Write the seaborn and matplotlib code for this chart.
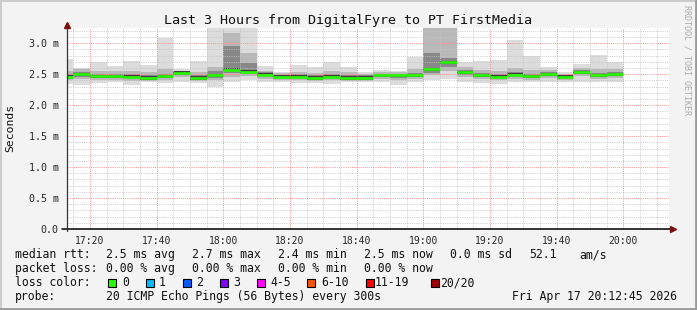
import matplotlib
matplotlib.use("Agg")
import matplotlib.pyplot as plt
from matplotlib.patches import Rectangle
from matplotlib.lines import Line2D
import seaborn as sns
import numpy as np

# ---------------- data (ms, minutes after 17:00) ----------------
bar_start = [10, 15, 20, 25, 30, 35, 40, 45, 50, 55, 60, 65, 70, 75, 80, 85, 90,
             95, 100, 105, 110, 115, 120, 125, 130, 135, 140, 145, 150, 155, 160,
             165, 170, 175]
median = [2.46, 2.50, 2.47, 2.47, 2.46, 2.44, 2.47, 2.52, 2.44, 2.48, 2.57, 2.54,
          2.49, 2.46, 2.46, 2.44, 2.46, 2.44, 2.44, 2.48, 2.48, 2.48, 2.58, 2.69,
          2.53, 2.48, 2.46, 2.49, 2.47, 2.50, 2.46, 2.53, 2.48, 2.50]
ping_max = [2.75, 2.60, 2.70, 2.63, 2.71, 2.65, 3.09, 2.58, 2.71, 3.30, 3.30, 3.30,
            2.63, 2.54, 2.65, 2.61, 2.69, 2.62, 2.54, 2.57, 2.56, 2.78, 3.30, 3.30,
            2.69, 2.72, 2.73, 3.05, 2.79, 2.61, 2.53, 2.66, 2.81, 2.69]
ping_min = [2.35, 2.33, 2.36, 2.38, 2.32, 2.37, 2.36, 2.37, 2.36, 2.29, 2.38, 2.40,
            2.38, 2.37, 2.36, 2.36, 2.34, 2.37, 2.37, 2.37, 2.33, 2.37, 2.40, 2.42,
            2.38, 2.36, 2.34, 2.37, 2.37, 2.38, 2.37, 2.38, 2.37, 2.38]
hi_mid = [2.56, 2.58, 2.56, 2.55, 2.55, 2.53, 2.58, 2.56, 2.53, 2.62, 3.17, 2.84,
          2.56, 2.52, 2.54, 2.52, 2.55, 2.53, 2.51, 2.54, 2.54, 2.58, 3.30, 3.30,
          2.61, 2.57, 2.55, 2.60, 2.57, 2.57, 2.51, 2.60, 2.58, 2.58]
lo_mid = [2.40, 2.42, 2.41, 2.41, 2.39, 2.39, 2.41, 2.45, 2.39, 2.40, 2.46, 2.47,
          2.43, 2.41, 2.41, 2.39, 2.40, 2.39, 2.39, 2.42, 2.41, 2.42, 2.48, 2.55,
          2.46, 2.42, 2.40, 2.43, 2.41, 2.44, 2.41, 2.47, 2.42, 2.44]
hi_core = [2.50, 2.54, 2.51, 2.51, 2.50, 2.48, 2.51, 2.55, 2.48, 2.55, 2.95, 2.68,
           2.53, 2.49, 2.50, 2.48, 2.50, 2.48, 2.48, 2.51, 2.51, 2.52, 2.84, 2.76,
           2.57, 2.52, 2.50, 2.53, 2.51, 2.54, 2.49, 2.57, 2.52, 2.54]
lo_core = [2.43, 2.46, 2.44, 2.44, 2.42, 2.41, 2.44, 2.48, 2.41, 2.44, 2.52, 2.50,
           2.46, 2.43, 2.43, 2.41, 2.43, 2.41, 2.41, 2.45, 2.44, 2.45, 2.52, 2.62,
           2.49, 2.45, 2.43, 2.46, 2.44, 2.47, 2.43, 2.50, 2.45, 2.47]

x_ticks = [20, 40, 60, 80, 100, 120, 140, 160, 180]
x_labels = ["17:20", "17:40", "18:00", "18:20", "18:40", "19:00", "19:20", "19:40", "20:00"]
y_ticks = [0.0, 0.5, 1.0, 1.5, 2.0, 2.5, 3.0]
y_labels = ["0.0", "0.5 m", "1.0 m", "1.5 m", "2.0 m", "2.5 m", "3.0 m"]

title = "Last 3 Hours from DigitalFyre to PT FirstMedia"
rtt_stats = ["2.5 ms avg", "2.7 ms max", "2.4 ms min", "2.5 ms now", "0.0 ms sd", "52.1", "am/s"]
loss_stats = ["0.00 % avg", "0.00 % max", "0.00 % min", "0.00 % now"]
loss_labels = ["0", "1", "2", "3", "4-5", "6-10", "11-19", "20/20"]
loss_colors = ["#26ff00", "#00b8ff", "#0059ff", "#7e00ff", "#ff00ff", "#ff5500", "#ff0000", "#a10000"]
probe_text = "20 ICMP Echo Pings (56 Bytes) every 300s"
date_text = "Fri Apr 17 20:12:45 2026"

# ---------------- style ----------------
sns.set_theme(style="white")
plt.rcParams["font.family"] = ["DejaVu Sans Mono"]

W, H = 697, 310
fig = plt.figure(figsize=(W / 100, H / 100), dpi=100, facecolor="#f3f3f3")

def fx(px):
    return px / W

def fy(py):
    return 1 - py / H

L, R, T, B = 67, 669, 28, 229
ax = fig.add_axes([fx(L), fy(B), fx(R) - fx(L), fy(T) - fy(B)])
ax.set_facecolor("white")

# smoke layers
def layer(lo, hi, color):
    ax.bar(bar_start, np.array(hi) - np.array(lo), bottom=lo, width=5, align="edge",
           color=color, linewidth=0, zorder=1)

layer(ping_min, ping_max, "#dcdcdc")
layer(lo_mid, hi_mid, "#b8b8b8")
layer(lo_core, hi_core, "#888888")
med = np.array(median)
layer(med - 0.025, med + 0.025, "#404040")
ax.hlines(median, bar_start, np.array(bar_start) + 5, colors="#26ff00", lw=1.9, zorder=4)

XMIN, XMAX, YMAX = 13.1, 193.7, 3.247
ax.set_xlim(XMIN, XMAX)
ax.set_ylim(0, YMAX)

# grid drawn manually (on top of smoke, like rrdtool)
dot = (0, (1, 1.2))
for m in range(15, 194, 5):
    if m % 20 != 0:
        ax.axvline(m, color="#c4c4c4", ls=dot, lw=0.6, zorder=2.5)
for k in range(1, 33):
    if k % 5 != 0:
        ax.axhline(k / 10, color="#c4c4c4", ls=dot, lw=0.6, zorder=2.5)
for m in x_ticks:
    ax.axvline(m, color="#ff9090", ls=dot, lw=0.7, zorder=2.6)
for v in y_ticks[1:]:
    ax.axhline(v, color="#ff9090", ls=dot, lw=0.7, zorder=2.6)

ax.set_xticks(x_ticks)
ax.set_xticklabels(x_labels, fontsize=7)
ax.set_yticks(y_ticks)
ax.set_yticklabels(y_labels, fontsize=7.2)
ax.tick_params(axis="x", which="major", length=2, pad=3, color="#000000", direction="out")
ax.tick_params(axis="y", which="major", length=2, pad=4, color="#000000", direction="out")
ax.grid(False)

for s in ax.spines.values():
    s.set_visible(False)

# axes lines with arrows
ax.add_line(Line2D([-0.008, 1.004], [0, 0], transform=ax.transAxes, color="#000000",
                   lw=1.1, clip_on=False, zorder=5))
ax.add_line(Line2D([0, 0], [-0.012, 1.01], transform=ax.transAxes, color="#333333",
                   lw=0.9, clip_on=False, zorder=5))
ax.plot([1.006], [0], marker=">", ms=4.5, color="#7a1010", transform=ax.transAxes,
        clip_on=False, zorder=6)
ax.plot([0], [1.014], marker="^", ms=4.5, color="#7a1010", transform=ax.transAxes,
        clip_on=False, zorder=6)

# title and labels
fig.text(fx(348.5), fy(24), title, ha="center", va="baseline", fontsize=9.6, color="#111111")
fig.text(fx(10), fy(128), "Seconds", rotation=90, ha="center", va="center", fontsize=8.2,
         color="#111111")
fig.text(fx(687), fy(60), "RRDTOOL / TOBI OETIKER", rotation=270, ha="center", va="center",
         fontsize=6, color="#aaaaaa")

# legend block
fs = 8.3
col_x = [106, 192, 278, 364, 450.5, 529, 579]
fig.text(fx(15), fy(258), "median rtt:", fontsize=fs, va="baseline", color="#111111")
for x, t in zip(col_x, rtt_stats):
    fig.text(fx(x), fy(258), t, fontsize=fs, va="baseline", color="#111111")
fig.text(fx(15), fy(272), "packet loss:", fontsize=fs, va="baseline", color="#111111")
for x, t in zip(col_x, loss_stats):
    fig.text(fx(x), fy(272), t, fontsize=fs, va="baseline", color="#111111")
fig.text(fx(15), fy(286), "loss color:", fontsize=fs, va="baseline", color="#111111")
box_x = [108, 145.5, 182.5, 219.5, 256.5, 307, 365.5, 430.5]
txt_x = [122, 159, 196, 233, 270, 321, 375, 440]
for bx, tx, lab, c in zip(box_x, txt_x, loss_labels, loss_colors):
    fig.add_artist(Rectangle((fx(bx), fy(286.5)), fx(8), 8 / H, transform=fig.transFigure,
                             facecolor=c, edgecolor="#000000", linewidth=0.8))
    fig.text(fx(tx), fy(286), lab, fontsize=fs, va="baseline", color="#111111")
fig.text(fx(15), fy(300), "probe:", fontsize=fs, va="baseline", color="#111111")
fig.text(fx(106), fy(300), probe_text, fontsize=fs, va="baseline", color="#111111")
fig.text(fx(512), fy(300), date_text, fontsize=fs, va="baseline", color="#111111")

# 3D-ish frame
fig.add_artist(Line2D([0, 1], [fy(0.75), fy(0.75)], transform=fig.transFigure, color="#cbcbcb", lw=1.5))
fig.add_artist(Line2D([fx(0.75), fx(0.75)], [0, 1], transform=fig.transFigure, color="#cbcbcb", lw=1.5))
fig.add_artist(Line2D([0, 1], [fy(308.75), fy(308.75)], transform=fig.transFigure, color="#9a9a9a", lw=2))
fig.add_artist(Line2D([fx(695.75), fx(695.75)], [0, 1], transform=fig.transFigure, color="#9a9a9a", lw=2))

fig.savefig("out.png", dpi=100, facecolor=fig.get_facecolor())
